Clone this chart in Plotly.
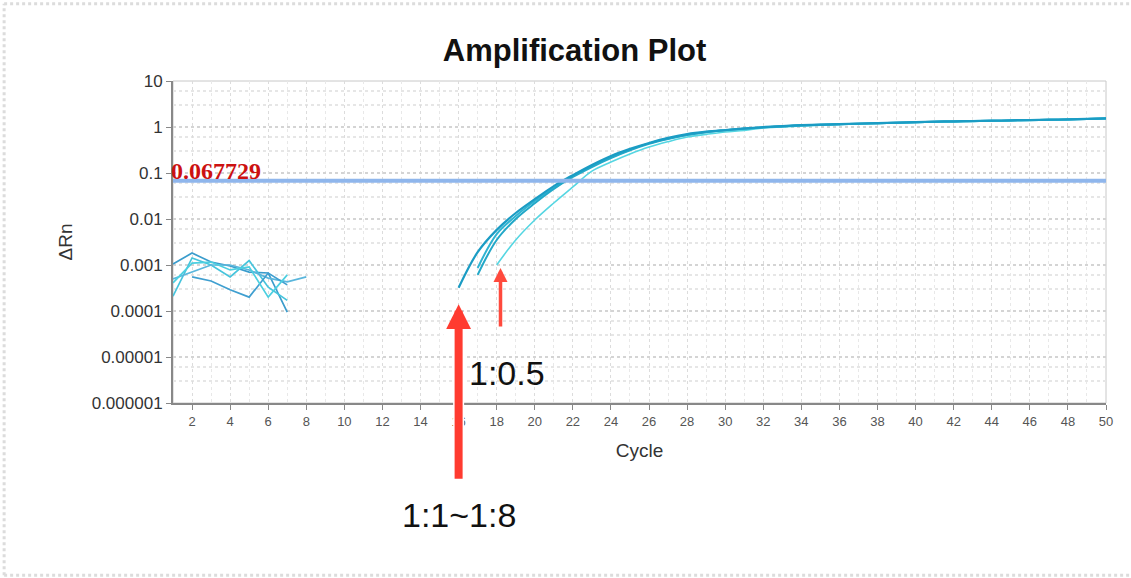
import math
import plotly.graph_objects as go

# ---- data -------------------------------------------------------------
threshold = 0.067729

# baseline noise, early cycles
noise_cycles = [
    [1, 2, 3, 4, 5, 6, 7],
    [1, 2, 3, 4, 5, 6, 7],
    [1, 2, 3, 4, 5, 6, 7, 8],
    [2, 3, 4, 5, 6, 7],
    [1, 2, 3, 4, 5, 6, 7],
]
noise_values = [
    [0.00105, 0.00182, 0.00116, 0.00095, 0.00070, 0.00067, 0.000095],
    [0.00021, 0.00142, 0.00100, 0.00055, 0.00125, 0.00033, 0.00017],
    [0.00050, 0.00070, 0.00100, 0.00100, 0.00078, 0.00052, 0.00043, 0.00055],
    [0.00055, 0.00045, 0.00029, 0.00020, 0.00067, 0.00037],
    [0.00041, 0.00110, 0.00116, 0.00078, 0.00091, 0.00020, 0.00061],
]
noise_colors = ["#3a9ccc", "#46c4dc", "#5ab6dc", "#3f9fd0", "#4ccfe0"]

# amplification curves
amp_a_cycles = list(range(16, 51))
amp_a = [0.00032, 0.0019, 0.0058, 0.0135, 0.027, 0.052, 0.090, 0.150, 0.235,
         0.335, 0.45, 0.58, 0.70, 0.79, 0.86, 0.93, 1.00, 1.05, 1.10, 1.13,
         1.16, 1.19, 1.22, 1.25, 1.28, 1.31, 1.33, 1.35, 1.37, 1.40, 1.42,
         1.44, 1.47, 1.50, 1.54]
amp_b_cycles = list(range(17, 51))
amp_b = [0.00061, 0.0035, 0.010, 0.022, 0.045, 0.082, 0.135, 0.21, 0.31,
         0.43, 0.55, 0.67, 0.77, 0.85, 0.92, 0.98, 1.03, 1.08, 1.12, 1.15,
         1.18, 1.21, 1.24, 1.27, 1.30, 1.32, 1.34, 1.36, 1.39, 1.41, 1.43,
         1.46, 1.49, 1.53]
amp_c_cycles = list(range(17, 51))
amp_c = [0.00086, 0.0047, 0.0116, 0.0246, 0.047, 0.086, 0.142, 0.22, 0.32,
         0.44, 0.56, 0.68, 0.78, 0.85, 0.92, 0.99, 1.04, 1.09, 1.12, 1.15,
         1.18, 1.21, 1.24, 1.27, 1.30, 1.32, 1.34, 1.36, 1.39, 1.41, 1.43,
         1.46, 1.49, 1.53]
amp_d_cycles = list(range(18, 51))
amp_d = [0.0010, 0.0035, 0.0095, 0.0223, 0.0497, 0.110, 0.173, 0.259, 0.367,
         0.48, 0.606, 0.69, 0.778, 0.84, 0.95, 1.00, 1.05, 1.09, 1.13, 1.16,
         1.19, 1.22, 1.25, 1.28, 1.31, 1.33, 1.36, 1.38, 1.41, 1.43, 1.46,
         1.50, 1.55]

y_tickvals = [10, 1, 0.1, 0.01, 0.001, 0.0001, 0.00001, 0.000001]
y_ticktext = ["10", "1", "0.1", "0.01", "0.001", "0.0001", "0.00001", "0.000001"]
x_tickvals = list(range(2, 51, 2))

# arrow tips (cycle, ΔRn) and dilution labels
arrow_main_tip = (16, 0.00014)
arrow_half_tip = (18.2, 0.00086)
label_half = "1:0.5"
label_main = "1:1~1:8"

# ---- figure -----------------------------------------------------------
fig = go.Figure()

for cyc, vals, col in zip(noise_cycles, noise_values, noise_colors):
    fig.add_trace(go.Scatter(x=cyc, y=vals, mode="lines",
                             line=dict(color=col, width=1.7),
                             hoverinfo="skip", showlegend=False))

fig.add_trace(go.Scatter(x=amp_d_cycles, y=amp_d, mode="lines",
                         line=dict(color="#55d6e2", width=1.6, shape="spline"),
                         showlegend=False))
fig.add_trace(go.Scatter(x=amp_c_cycles, y=amp_c, mode="lines",
                         line=dict(color="#2fb4d2", width=2, shape="spline"),
                         showlegend=False))
fig.add_trace(go.Scatter(x=amp_b_cycles, y=amp_b, mode="lines",
                         line=dict(color="#22a8c8", width=2, shape="spline"),
                         showlegend=False))
fig.add_trace(go.Scatter(x=amp_a_cycles, y=amp_a, mode="lines",
                         line=dict(color="#1b9cc4", width=2.2, shape="spline"),
                         showlegend=False))

# threshold line
fig.add_shape(type="line", xref="x", yref="y", x0=1, x1=50.1,
              y0=threshold, y1=threshold,
              line=dict(color="#8fb6ec", width=4), layer="above")
fig.add_annotation(x=1, y=math.log10(threshold), xref="x", yref="y",
                   text="<b>0.067729</b>", showarrow=False,
                   xanchor="left", yanchor="bottom", yshift=-5, xshift=-4,
                   font=dict(family="Liberation Serif", size=24, color="#cc1111"))

# plot frame (top/right)
fig.add_shape(type="rect", xref="paper", yref="paper", x0=0, x1=1, y0=0, y1=1,
              line=dict(color="#c8c8c8", width=1), layer="below")

# outer faint border
for x0, y0, x1, y1 in [(-0.181, 1.24, 1.03, 1.24), (-0.181, -0.535, -0.181, 1.24),
                       (-0.181, -0.535, 1.03, -0.535)]:
    fig.add_shape(type="line", xref="paper", yref="paper", x0=x0, y0=y0, x1=x1, y1=y1,
                  line=dict(color="#dcdcdc", width=3, dash="dot"))

# arrows: white halo underneath, red arrow on top
for (cx, cy), ay, w, size, col in [
    (arrow_main_tip, 176, 11, 0.62, "white"),
    (arrow_main_tip, 176, 8, 0.62, "#ff3b30"),
    (arrow_half_tip, 60, 3.5, 0.8, "#ff4a3d"),
]:
    fig.add_annotation(x=cx, y=math.log10(cy), xref="x", yref="y", ax=0, ay=ay,
                       showarrow=True, arrowhead=2, arrowsize=size, arrowwidth=w,
                       arrowcolor=col, text="")

fig.add_annotation(x=18.55, y=0.093, xref="x", yref="paper", text=label_half,
                   showarrow=False, yanchor="middle",
                   font=dict(family="Arial", size=34, color="#111"))
fig.add_annotation(x=16.0, y=-0.348, xref="x", yref="paper", text=label_main,
                   showarrow=False, yanchor="middle",
                   font=dict(family="Arial", size=34, color="#111"))

fig.update_layout(
    width=1131, height=578,
    margin=dict(l=173, r=25, t=81, b=175),
    paper_bgcolor="white", plot_bgcolor="white",
    title=dict(text="<b>Amplification Plot</b>", x=0.508, xanchor="center",
               y=0.913, yanchor="middle",
               font=dict(family="Arial", size=31, color="#111")),
    xaxis=dict(range=[1, 50], tickvals=x_tickvals, ticks="outside", ticklen=5,
               tickcolor="#888", tickfont=dict(family="Arial", size=13, color="#555"),
               showline=True, linecolor="#888", linewidth=2,
               showgrid=True, gridcolor="#dcdcdc", griddash="dot", gridwidth=1,
               minor=dict(dtick=1, showgrid=True, gridcolor="#e8e8e8", griddash="dot"),
               zeroline=False,
               title=dict(text="Cycle", font=dict(family="Arial", size=19, color="#333"),
                          standoff=16)),
    yaxis=dict(type="log", range=[-6, 1], tickvals=y_tickvals, ticktext=y_ticktext,
               ticks="outside", ticklen=5, tickcolor="#888",
               tickfont=dict(family="Arial", size=17, color="#333"),
               showline=True, linecolor="#888", linewidth=2,
               showgrid=True, gridcolor="#d4d4d4", griddash="dot", gridwidth=1.5,
               minor=dict(tickvals=[3e-6, 6e-6, 3e-5, 6e-5, 3e-4, 6e-4, 3e-3, 6e-3,
                                    3e-2, 6e-2, 0.3, 0.6, 3, 6],
                          showgrid=True, gridcolor="#e6e6e6", griddash="dot"),
               zeroline=False,
               title=dict(text="ΔRn", font=dict(family="Arial", size=19, color="#333"),
                          standoff=14)),
)

fig.write_html("out.html")
